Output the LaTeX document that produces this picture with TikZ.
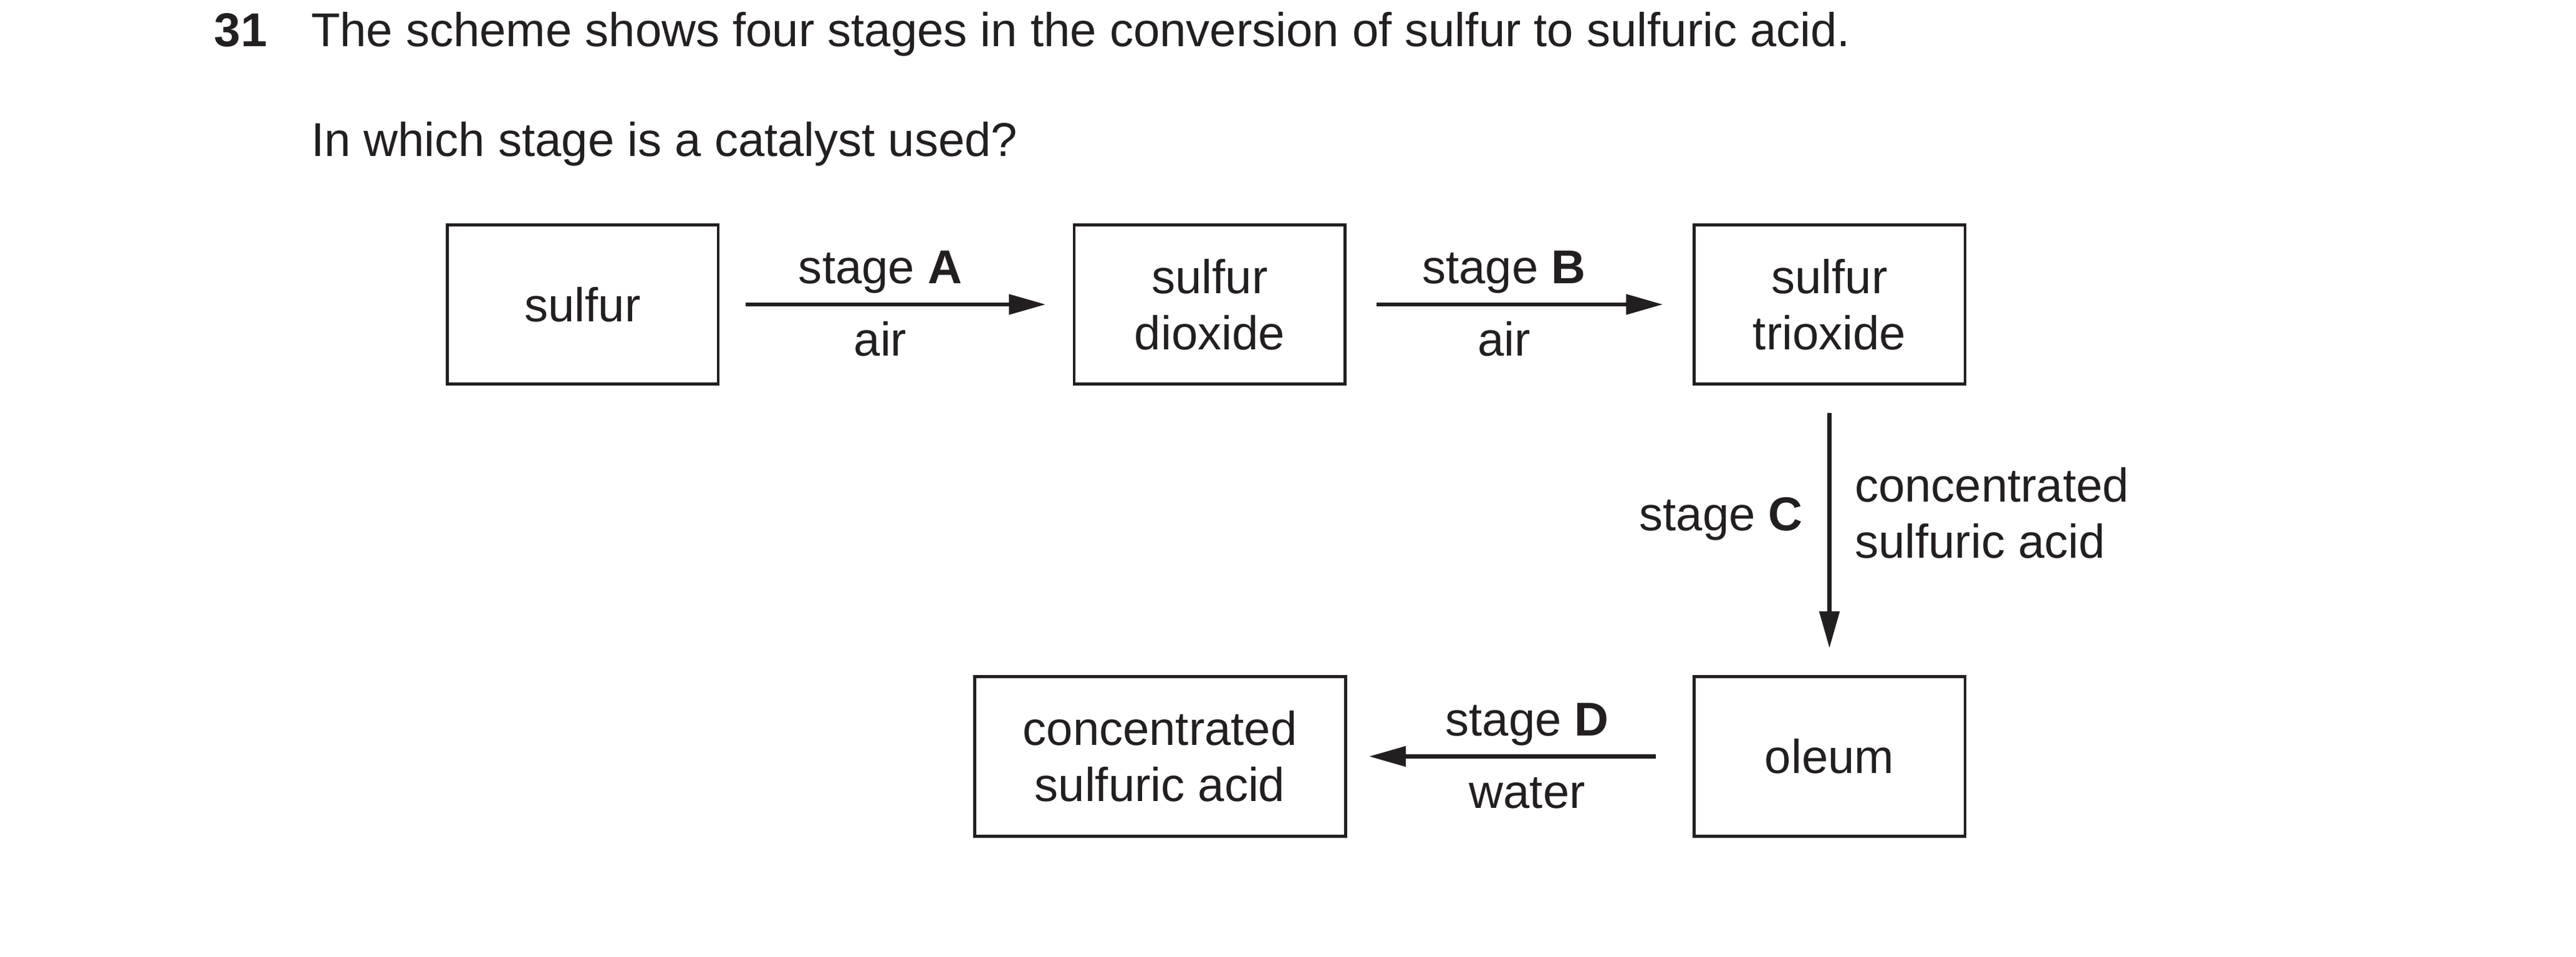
\documentclass[tikz,border=0pt]{standalone}
\usepackage{fontspec}
\setmainfont{Liberation Sans}
\usetikzlibrary{arrows.meta}
\definecolor{K}{RGB}{35, 31, 32}

\tikzset{
  box/.style={draw=K, line width=0.7pt, minimum width=2.21cm, minimum height=1.30cm, align=center, inner sep=0pt},
  conv/.style={draw=K, line width=0.95pt, -{Triangle[length=0.30cm, width=0.16cm]}},
  lblup/.style={anchor=base, yshift=0.17cm, inner sep=0pt},
  lbldown/.style={anchor=base, yshift=-0.42cm, inner sep=0pt},
  txt/.style={anchor=base west, inner sep=0pt}
}

\begin{document}
\begin{tikzpicture}[font=\fontsize{11}{13}\selectfont, text=K]
  \useasboundingbox (0,0) rectangle (21,-7.796);
  % question
  \node[txt] (num) at (1.74,-0.381) {\textbf{31}};
  \node[txt] (line1) at (2.53,-0.381) {The scheme shows four stages in the conversion of sulfur to sulfuric acid.};
  \node[txt] (line2) at (2.53,-1.271) {In which stage is a catalyst used?};
  % top row
  \node[box] (S) at (4.75,-2.48) {sulfur};
  \node[box] (SO2) at (9.862,-2.48) {sulfur\\dioxide};
  \node[box] (SO3) at (14.914,-2.48) {sulfur\\trioxide};
  % bottom row
  \node[box, minimum width=3.024cm] (CSA) at (9.456,-6.162) {concentrated\\sulfuric acid};
  \node[box] (O) at (14.914,-6.162) {oleum};
  % stages
  \draw[conv, shorten <=0.21cm, shorten >=0.22cm] (S) -- node[pos=0.455, lblup] {stage \textbf{A}} node[pos=0.455, lbldown] {air} (SO2);
  \draw[conv, shorten <=0.24cm, shorten >=0.24cm] (SO2) -- node[pos=0.455, lblup] {stage \textbf{B}} node[pos=0.455, lbldown] {air} (SO3);
  \draw[conv, shorten <=0.22cm, shorten >=0.22cm] (SO3) -- node[pos=0.5, anchor=base east, xshift=-0.2cm, inner sep=0pt] {stage \textbf{C}} node[pos=0.44, anchor=west, xshift=0.19cm, align=left, inner sep=0pt] {concentrated\\sulfuric acid} (O);
  \draw[conv, shorten <=0.3cm, shorten >=0.18cm] (O) -- node[pos=0.478, lblup] {stage \textbf{D}} node[pos=0.478, lbldown] {water} (CSA);
\end{tikzpicture}
\end{document}
